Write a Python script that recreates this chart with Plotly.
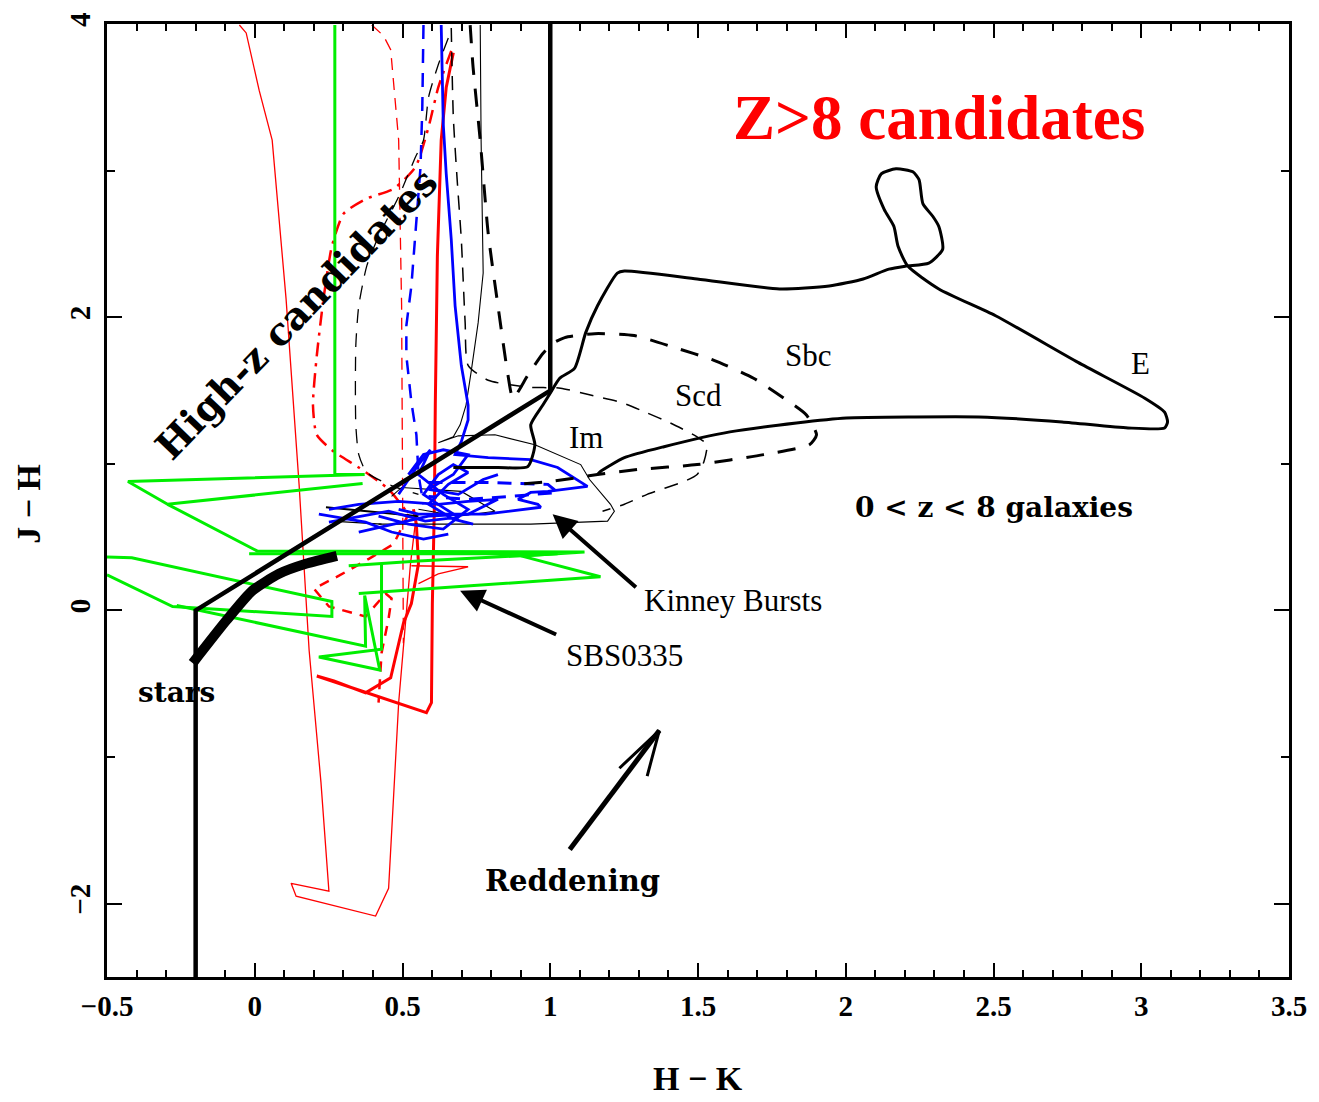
import plotly.graph_objects as go

# ---------------- data (H-K, J-H colours) ----------------
# high-z selection boundary
bound_hk = [1.0, 1.0, -0.2, -0.2]
bound_jh = [4.0, 1.5, 0.0, -2.5]

# stellar locus
stars_hk = [-0.21, -0.096, -0.008, 0.082, 0.173, 0.278]
stars_jh = [-0.359, -0.068, 0.135, 0.25, 0.318, 0.372]

# E template track
e_hk = [0.672, 0.823, 0.924, 0.948, 0.934, 0.975, 1.002, 1.032, 1.082, 1.120, 1.160, 1.227,
        1.251, 1.497, 1.776, 1.944, 2.059, 2.146, 2.204, 2.281, 2.328, 2.315, 2.295, 2.261,
        2.248, 2.227, 2.170, 2.120, 2.103, 2.130, 2.163, 2.177, 2.210, 2.315, 2.507, 2.786,
        3.012, 3.079, 3.089, 3.079, 2.955, 2.732, 2.450, 2.227, 2.002, 1.833, 1.608, 1.385,
        1.251, 1.170, 1.160]
e_jh = [0.975, 0.975, 0.981, 1.130, 1.266, 1.401, 1.489, 1.584, 1.651, 1.895, 2.078, 2.301,
        2.315, 2.261, 2.193, 2.213, 2.261, 2.328, 2.349, 2.369, 2.464, 2.619, 2.687, 2.775,
        2.938, 2.992, 3.012, 2.978, 2.890, 2.735, 2.619, 2.484, 2.349, 2.193, 2.010, 1.692,
        1.448, 1.353, 1.286, 1.245, 1.245, 1.286, 1.320, 1.320, 1.313, 1.279, 1.218, 1.117,
        1.042, 0.948, 0.927]

# Sbc template track
sbc_hk = [0.729, 0.739, 0.763, 0.790, 0.823, 0.857, 0.874, 0.924, 0.975, 1.008, 1.049, 1.150,
          1.284, 1.419, 1.554, 1.688, 1.810, 1.867, 1.901, 1.877, 1.722, 1.497, 1.295, 1.160,
          1.002, 0.891]
sbc_jh = [3.993, 3.702, 3.208, 2.572, 2.078, 1.604, 1.448, 1.604, 1.753, 1.821, 1.861, 1.888,
          1.875, 1.794, 1.706, 1.584, 1.421, 1.333, 1.198, 1.130, 1.063, 0.995, 0.961, 0.927,
          0.880, 0.860]

# Scd template track
scd_hk = [0.665, 0.672, 0.685, 0.699, 0.712, 0.722, 0.790, 0.924, 1.035, 1.136, 1.237, 1.328,
          1.406, 1.497, 1.530, 1.520, 1.497, 1.453, 1.328, 1.251, 1.177]
scd_jh = [3.973, 3.364, 2.937, 2.531, 1.963, 1.672, 1.570, 1.523, 1.516, 1.469, 1.421, 1.347,
          1.279, 1.184, 1.130, 1.015, 0.927, 0.880, 0.792, 0.724, 0.677]

# second thin dashed black track
sd_hk = [0.655, 0.621, 0.588, 0.571, 0.544, 0.487, 0.419, 0.379, 0.352, 0.342, 0.342, 0.352,
         0.379, 0.470, 0.554]
sd_jh = [3.905, 3.722, 3.499, 3.208, 3.093, 2.822, 2.552, 2.349, 2.078, 1.807, 1.266, 1.063,
         0.941, 0.846, 0.792]

# Im template track
im_hk = [0.763, 0.766, 0.773, 0.756, 0.732, 0.715, 0.695, 0.672, 0.621, 0.689, 0.813, 0.948,
         1.103, 1.133, 1.204, 1.217, 1.194, 1.116, 0.934, 0.655, 0.419]
im_jh = [3.993, 3.208, 2.301, 1.963, 1.624, 1.401, 1.266, 1.184, 1.144, 1.191, 1.198, 1.130,
         0.995, 0.893, 0.724, 0.677, 0.609, 0.602, 0.589, 0.589, 0.589]
im2_hk = [0.463, 0.497, 0.699, 0.813, 0.689, 0.554]
im2_jh = [0.778, 0.839, 0.812, 0.677, 0.643, 0.690]
k5_hk = [0.241, 0.429, 0.554]
k5_jh = [0.704, 0.670, 0.643]
k6_hk = [0.261, 0.429]
k6_jh = [0.609, 0.589]

# Kinney starburst tracks (blue)
kb1_hk = [0.631, 0.638, 0.648, 0.665, 0.678, 0.699, 0.722, 0.722, 0.699, 0.678, 0.790, 0.934,
          1.025, 1.126, 0.992, 0.934, 0.891, 0.958, 0.968, 0.780, 0.554, 0.487]
kb1_jh = [3.993, 3.316, 2.978, 2.531, 2.078, 1.672, 1.401, 1.299, 1.151, 1.063, 1.042, 1.029,
          0.975, 0.846, 0.812, 0.805, 0.758, 0.724, 0.704, 0.657, 0.657, 0.690]
kb2_hk = [0.571, 0.567, 0.561, 0.547, 0.530, 0.513, 0.513, 0.530, 0.547, 0.554, 0.571]
kb2_jh = [3.993, 3.431, 3.025, 2.640, 2.213, 1.942, 1.739, 1.421, 1.198, 0.927, 0.724]
kb3_hk = [0.588, 0.780, 0.992, 1.025, 0.867, 0.722, 0.588]
kb3_jh = [0.873, 0.873, 0.860, 0.805, 0.778, 0.758, 0.778]
kb4_hk = [0.217, 0.375, 0.463, 0.571, 0.655]
kb4_jh = [0.657, 0.602, 0.535, 0.487, 0.521]
kb5_hk = [0.251, 0.453, 0.577, 0.689, 0.621, 0.571, 0.621, 0.672, 0.722, 0.655, 0.588, 0.672, 0.739]
kb5_jh = [0.602, 0.677, 0.609, 0.636, 0.724, 0.792, 0.927, 0.995, 0.941, 0.860, 0.724, 0.623, 0.589]
kb6_hk = [0.487, 0.554, 0.594, 0.554, 0.638, 0.722, 0.638, 0.520, 0.419]
kb6_jh = [0.792, 0.995, 1.096, 0.927, 0.792, 0.690, 0.555, 0.589, 0.643]
kb7_hk = [0.251, 0.352, 0.487, 0.621, 0.722, 0.823, 0.722, 0.588, 0.470, 0.352]
kb7_jh = [0.690, 0.724, 0.744, 0.724, 0.744, 0.758, 0.657, 0.643, 0.589, 0.535]
kb8_hk = [0.520, 0.571, 0.638, 0.722, 0.672, 0.588, 0.689, 0.773, 0.823]
kb8_jh = [0.927, 1.063, 1.096, 1.063, 0.927, 0.826, 0.792, 0.893, 0.927]

# SBS0335 tracks (green)
g1_hk = [0.271, 0.271, 0.372, -0.429, -0.295, 0.365]
g1_jh = [3.993, 0.927, 0.927, 0.880, 0.724, 0.866]
g2_hk = [-0.295, 0.008, 1.116, 0.901, 1.170, 0.476, 0.352]
g2_jh = [0.724, 0.406, 0.399, 0.372, 0.230, 0.135, 0.115]
g3_hk = [-0.019, 1.025, 0.554, 0.318]
g3_jh = [0.386, 0.386, 0.338, 0.305]
g4_hk = [-0.5, -0.416, 0.261, 0.261, -0.278, -0.5]
g4_jh = [0.365, 0.359, 0.061, -0.041, 0.027, 0.243]
g5_hk = [-0.264, 0.375, 0.372, 0.423, 0.217, 0.429, 0.429]
g5_jh = [0.034, -0.244, 0.102, -0.406, -0.318, -0.264, 0.318]

# red model tracks
r1_hk = [-0.052, -0.029, 0.015, 0.059, 0.106, 0.150, 0.184, 0.224, 0.251, 0.123, 0.140, 0.409,
         0.453, 0.487, 0.510, 0.527, 0.547]
r1_jh = [3.993, 3.939, 3.547, 3.208, 2.125, 0.860, -0.271, -1.171, -1.915, -1.861, -1.949,
         -2.084, -1.895, -0.629, -0.088, 0.318, 0.657]
r2_hk = [0.396, 0.436, 0.460, 0.487, 0.497, 0.500, 0.503]
r2_jh = [3.993, 3.919, 3.824, 3.208, 2.078, 0.724, -0.223]
r3_hk = [0.672, 0.648, 0.631, 0.618, 0.611, 0.608, 0.601, 0.598, 0.581, 0.210, 0.268, 0.375,
         0.460, 0.503, 0.530, 0.554, 0.547, 0.537]
r3_jh = [3.804, 3.567, 3.208, 2.416, 1.401, 0.724, 0.047, -0.629, -0.697, -0.447, -0.481,
         -0.562, -0.460, -0.088, 0.047, 0.318, 0.589, 0.690]
r4_hk = [0.665, 0.621, 0.588, 0.544, 0.470, 0.379, 0.301, 0.261, 0.234, 0.210, 0.197, 0.210,
         0.268, 0.352, 0.453, 0.520]
r4_jh = [3.817, 3.567, 3.296, 3.025, 2.876, 2.809, 2.707, 2.484, 2.146, 1.739, 1.401, 1.198,
         1.083, 0.975, 0.826, 0.657]
r5_hk = [0.520, 0.470, 0.386, 0.285, 0.200, 0.251, 0.375, 0.443, 0.463, 0.453, 0.429, 0.419]
r5_jh = [0.657, 0.453, 0.352, 0.237, 0.149, 0.027, -0.041, 0.115, 0.081, -0.054, -0.291, -0.629]
r6_hk = [0.530, 0.722, 0.621, 0.554]
r6_jh = [0.305, 0.298, 0.250, 0.183]

# reddening vector (shaft and open head)
redd_hk = [1.066, 1.369]
redd_jh = [-1.631, -0.819]
redd_head_hk = [1.234, 1.369, 1.328]
redd_head_jh = [-1.076, -0.819, -1.130]

# pointer arrows: (head, tail)
kinney_arrow = [(1.008, 0.657), (1.295, 0.149)]
sbs_arrow = [(0.695, 0.135), (1.025, -0.169)]

# ---------------- figure ----------------
RED, GREEN, BLUE, BLACK = "#ff0000", "#00ee00", "#0000ff", "#000000"
fig = go.Figure()


def track(x, y, color, width, dash="solid", smooth=False):
    line = dict(color=color, width=width, dash=dash)
    if smooth:
        line.update(shape="spline", smoothing=0.6)
    fig.add_trace(go.Scatter(x=x, y=y, mode="lines", hoverinfo="skip", line=line))


# red tracks
track(r1_hk, r1_jh, RED, 1.3)
track(r2_hk, r2_jh, RED, 1.3, "12px,8px")
track(r4_hk, r4_jh, RED, 2.5, "14px,7px,3px,7px", smooth=True)
track(r5_hk, r5_jh, RED, 2.5, "10px,8px")
track(r6_hk, r6_jh, RED, 1.3)
track(r3_hk, r3_jh, RED, 3)

# green tracks
for gx, gy in [(g1_hk, g1_jh), (g2_hk, g2_jh), (g3_hk, g3_jh), (g4_hk, g4_jh), (g5_hk, g5_jh)]:
    track(gx, gy, GREEN, 3)

# black thin template tracks
track(sd_hk, sd_jh, BLACK, 1.3, "14px,10px", smooth=True)
track(scd_hk, scd_jh, BLACK, 1.5, "14px,10px", smooth=True)
track(im_hk, im_jh, BLACK, 1.1)
track(im2_hk, im2_jh, BLACK, 1.1)
track(k5_hk, k5_jh, BLACK, 2)
track(k6_hk, k6_jh, BLACK, 1.3)

# blue starburst tracks
track(kb2_hk, kb2_jh, BLUE, 2.5, "14px,10px")
track(kb3_hk, kb3_jh, BLUE, 3, "14px,9px")
track(kb1_hk, kb1_jh, BLUE, 2.8)
for bx, by in [(kb4_hk, kb4_jh), (kb5_hk, kb5_jh), (kb6_hk, kb6_jh),
               (kb7_hk, kb7_jh), (kb8_hk, kb8_jh)]:
    track(bx, by, BLUE, 2.8)

# thick black templates
track(sbc_hk, sbc_jh, BLACK, 3, "18px,14px", smooth=True)
track(e_hk, e_jh, BLACK, 3, smooth=True)

# selection boundary, stars, reddening vector
track(bound_hk, bound_jh, BLACK, 4.5)
track(stars_hk, stars_jh, BLACK, 10, smooth=True)
track(redd_hk, redd_jh, BLACK, 5)
track(redd_head_hk, redd_head_jh, BLACK, 3)

serif = "Liberation Serif"
slab = "DejaVu Serif"

ann = []
for (hx, hy), (tx, ty) in [kinney_arrow, sbs_arrow]:
    ann.append(dict(x=hx, y=hy, ax=tx, ay=ty, xref="x", yref="y", axref="x", ayref="y",
                    text="", showarrow=True, arrowhead=2, arrowsize=1.2, arrowwidth=4,
                    arrowcolor=BLACK, standoff=0))


def label(text, x, y, family, size, color=BLACK, bold=False, angle=0, xanchor="center"):
    ann.append(dict(x=x, y=y, xref="x", yref="y", text=text, showarrow=False,
                    xanchor=xanchor, yanchor="middle", textangle=angle,
                    font=dict(family=family, size=size, color=color,
                              weight="bold" if bold else "normal")))


label("Z>8 candidates", 2.315, 3.36, serif, 63, RED, bold=True)
label("High-z candidates", 0.141, 2.027, slab, 38, bold=True, angle=-46)
label("0 < z < 8 galaxies", 2.50, 0.704, slab, 28, bold=True)
label("stars", -0.264, -0.562, slab, 28, bold=True)
label("Reddening", 1.076, -1.848, slab, 29, bold=True)
label("Sbc", 1.874, 1.739, serif, 31)
label("Scd", 1.503, 1.469, serif, 31)
label("Im", 1.12, 1.178, serif, 31)
label("E", 2.998, 1.685, serif, 31)
label("Kinney Bursts", 1.312, 0.068, serif, 31, xanchor="left")
label("SBS0335", 1.251, -0.305, serif, 31)

# axis titles
ann.append(dict(x=0.5, y=-0.106, xref="paper", yref="paper", text="H − K", showarrow=False,
                xanchor="center", yanchor="middle",
                font=dict(family=serif, size=34, color=BLACK, weight="bold")))
ann.append(dict(x=-0.0665, y=0.497, xref="paper", yref="paper", text="J − H", showarrow=False,
                xanchor="center", yanchor="middle", textangle=-90,
                font=dict(family=serif, size=34, color=BLACK, weight="bold")))

tickfont = dict(family=serif, size=29, color=BLACK, weight="bold")
fig.update_layout(
    width=1319, height=1102,
    margin=dict(l=107, r=24, t=17, b=125),
    paper_bgcolor="white", plot_bgcolor="white",
    showlegend=False,
    annotations=ann,
    xaxis=dict(range=[-0.5, 3.5], tick0=0, dtick=0.5, showgrid=False, zeroline=False,
               showline=True, linewidth=3, linecolor=BLACK, mirror="ticks",
               ticks="inside", ticklen=14, tickwidth=2, tickcolor=BLACK,
               ticklabelstandoff=1, tickfont=tickfont,
               minor=dict(ticks="inside", ticklen=7, tickwidth=2, tickcolor=BLACK,
                          dtick=0.1, tick0=0)),
    yaxis=dict(range=[-2.5, 4], tick0=0, dtick=2, showgrid=False, zeroline=False,
               showline=True, linewidth=3, linecolor=BLACK, mirror="ticks",
               ticks="inside", ticklen=15, tickwidth=2, tickcolor=BLACK,
               tickangle=-90, ticklabelstandoff=2, tickfont=tickfont,
               minor=dict(ticks="inside", ticklen=8, tickwidth=2, tickcolor=BLACK,
                          dtick=1, tick0=0)),
)

fig.write_html("out.html")
